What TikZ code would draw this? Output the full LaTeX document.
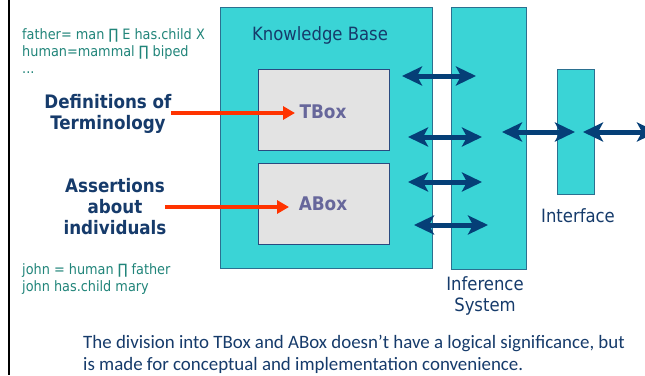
\documentclass[tikz,border=0pt]{standalone}
\usepackage{fontspec}
\setmainfont{DejaVu Sans Condensed}
\newfontfamily\calib{Carlito}
\usetikzlibrary{arrows.meta}
\definecolor{kbfill}{HTML}{3AD4D6}
\definecolor{kbline}{HTML}{2B7090}
\definecolor{boxfill}{HTML}{E3E3E3}
\definecolor{boxline}{HTML}{2A4A80}
\definecolor{arrblue}{HTML}{053F77}
\definecolor{arrred}{HTML}{FF3300}
\definecolor{greentxt}{HTML}{21857A}
\definecolor{navy}{HTML}{163B6B}
\definecolor{slate}{HTML}{67679B}
\begin{document}
\begin{tikzpicture}[x=1pt,y=-1pt,
  panel/.style={draw=kbline, line width=1pt, fill=kbfill, inner sep=0pt, outer sep=0pt, anchor=north west},
  subbox/.style={draw=boxline, line width=0.8pt, fill=boxfill, inner sep=0pt, outer sep=0pt, anchor=north west},
  dbl/.style={arrblue, line width=5pt, {Stealth[length=20pt,width=19pt,inset=5pt]}-{Stealth[length=20pt,width=19pt,inset=5pt]}},
  redarr/.style={arrred, line width=4pt, -{Triangle[length=12pt,width=13pt]}},
  greenlbl/.style={text=greentxt, align=left, anchor=west, inner sep=0pt, font=\fontsize{14.3}{17}\selectfont},
  boldlbl/.style={text=navy, align=center, inner sep=0pt, font=\bfseries\fontsize{18.6}{21}\selectfont},
  plainlbl/.style={text=navy, align=center, inner sep=0pt, font=\fontsize{18.3}{21}\selectfont},
  boxlbl/.style={text=slate, inner sep=0pt, font=\bfseries\fontsize{18.8}{20}\selectfont}
]
\useasboundingbox[fill=white] (0,0) rectangle (645,375);
% left rule
\coordinate (lt) at (9,0);
\coordinate (lb) at (9,375);
\draw[black, line width=2.5pt] (lt) -- (lb);

% panels
\node[panel, minimum width=212pt, minimum height=261pt] (kb) at (220,7) {};
\node[panel, minimum width=75pt, minimum height=262pt] (inf) at (451,7) {};
\node[panel, minimum width=37pt, minimum height=125pt] (intf) at (557,69) {};
\node[subbox, minimum width=131pt, minimum height=81pt] (tbox) at (258,69) {};
\node[subbox, minimum width=131pt, minimum height=81pt] (abox) at (258,163) {};

% labels
\node[plainlbl] (kblbl) at (320,35) {Knowledge Base};
\node[boxlbl] (tlbl) at (323,112) {TBox};
\node[boxlbl] (albl) at (323,204) {ABox};
\node[plainlbl] (intflbl) at (578,216) {Interface};
\node[plainlbl] (inflbl) at (485,296) {Inference\\System};

\node[greenlbl] (tdefs) at (22,51) {father= man ∏ E has.child X\\human=mammal ∏ biped\\...};
\node[greenlbl] (adefs) at (22,279) {john = human ∏ father\\john has.child mary};

\node[boldlbl] (defs) at (108,113.5) {Definitions of\\Terminology};
\node[boldlbl] (asrt) at (115,207) {Assertions\\about\\individuals};

\node[text=navy, align=left, anchor=west, inner sep=0pt, font=\calib\fontsize{18.9}{22}\selectfont] (note) at (83,354)
  {The division into TBox and ABox doesn’t have a logical significance, but\\is made for conceptual and implementation convenience.};

% red arrows
\coordinate (r1s) at (171,113);
\coordinate (r1e) at (295,113);
\coordinate (r2s) at (165,207);
\coordinate (r2e) at (289,207);
\draw[redarr] (r1s) -- (r1e);
\draw[redarr] (r2s) -- (r2e);

% blue double arrows
\coordinate (a1l) at (402,76);  \coordinate (a1r) at (476,76);
\coordinate (a2l) at (408,137); \coordinate (a2r) at (482,137);
\coordinate (a3l) at (408,182); \coordinate (a3r) at (482,182);
\coordinate (a4l) at (414,225); \coordinate (a4r) at (488,225);
\coordinate (a5l) at (502,132); \coordinate (a5r) at (575,132);
\coordinate (a6l) at (583,132); \coordinate (a6r) at (657,132);
\draw[dbl] (a1l) -- (a1r);
\draw[dbl] (a2l) -- (a2r);
\draw[dbl] (a3l) -- (a3r);
\draw[dbl] (a4l) -- (a4r);
\draw[dbl] (a5l) -- (a5r);
\draw[dbl] (a6l) -- (a6r);
\end{tikzpicture}
\end{document}
